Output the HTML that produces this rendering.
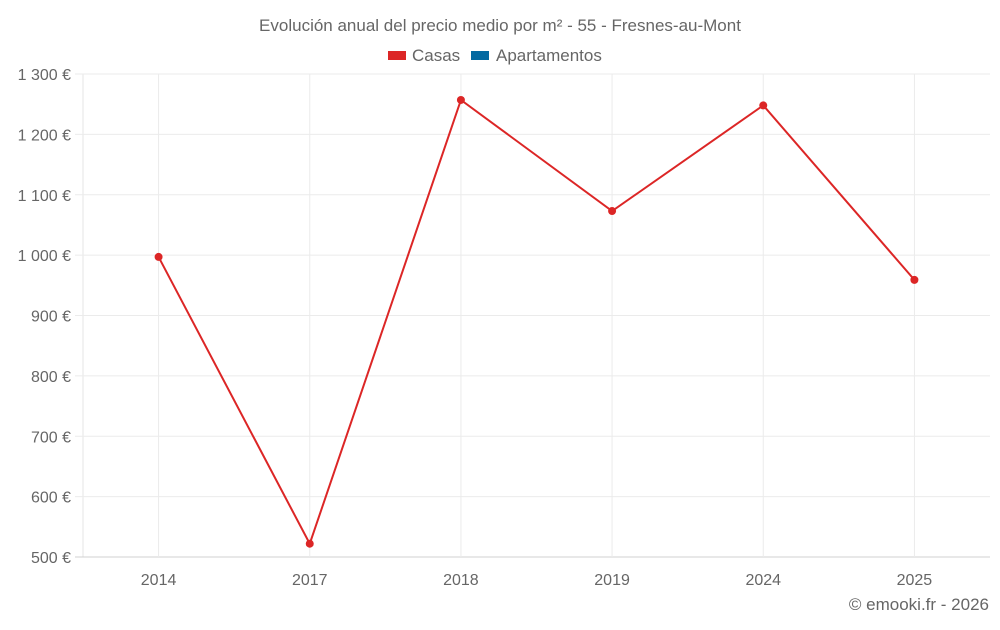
<!DOCTYPE html>
<html><head><meta charset="utf-8"><style>
body{margin:0;background:#fff;font-family:"Liberation Sans",sans-serif;}
svg text{font-family:"Liberation Sans",sans-serif;fill:#666;}
</style></head><body>
<svg id="c" width="1000" height="625">
<text x="500" y="31" text-anchor="middle" font-size="17">Evolución anual del precio medio por m² - 55 - Fresnes-au-Mont</text>
<g>
<g><rect x="388" y="51" width="18" height="9" fill="#dc2626"/><text x="412" y="61" font-size="17">Casas</text></g>
<g><rect x="471" y="51" width="18" height="9" fill="#0369a1"/><text x="496" y="61" font-size="17">Apartamentos</text></g>
</g>
<g id="grid"></g>
<g id="axes"></g>
<g id="series"></g>
<text x="989" y="610" text-anchor="end" font-size="17">© emooki.fr - 2026</text>
</svg>
<script>
const categories=["2014","2017","2018","2019","2024","2025"];
const casas=[997,522,1257,1073,1248,959];
const yTicks=[500,600,700,800,900,1000,1100,1200,1300];
const yTickLabels=["500 €","600 €","700 €","800 €","900 €","1 000 €","1 100 €","1 200 €","1 300 €"];
const L=83,R=990,T=74,B=557,yMin=500,yMax=1300;
const ns="http://www.w3.org/2000/svg";
function y(v){return B-(v-yMin)/(yMax-yMin)*(B-T);}
function x(i){const w=(R-L)/categories.length;return L+w*(i+0.5);}
function mk(tag,attrs,parent){const e=document.createElementNS(ns,tag);for(const k in attrs)e.setAttribute(k,attrs[k]);parent.appendChild(e);return e;}
const grid=document.getElementById('grid'),axes=document.getElementById('axes'),series=document.getElementById('series');
const la=mk('line',{x1:L,x2:L,y1:T,y2:B,stroke:'#e6e6e6'},grid);


yTicks.forEach((t,i)=>{
 const l=mk('line',{x1:L-8,x2:R,y1:y(t),y2:y(t),stroke:t===yMin?'#d0d0d0':'#ebebeb'},grid);
 
 
 const tx=mk('text',{x:71,y:y(t)+6,'text-anchor':'end','font-size':16},axes);
 tx.textContent=yTickLabels[i];
 
 
});
categories.forEach((c,i)=>{
 const l=mk('line',{x1:x(i),x2:x(i),y1:T,y2:B,stroke:'#ebebeb'},grid);
 
 
 const tx=mk('text',{x:x(i),y:585,'text-anchor':'middle','font-size':16},axes);
 tx.textContent=c;
 
 
});
const pl=mk('polyline',{points:casas.map((v,i)=>x(i)+','+y(v)).join(' '),fill:'none',stroke:'#dc2626','stroke-width':2},series);


casas.forEach((v,i)=>{
 const p=mk('circle',{cx:x(i),cy:y(v),r:4,fill:'#dc2626'},series);
 
 
});
</script>
</body></html>
